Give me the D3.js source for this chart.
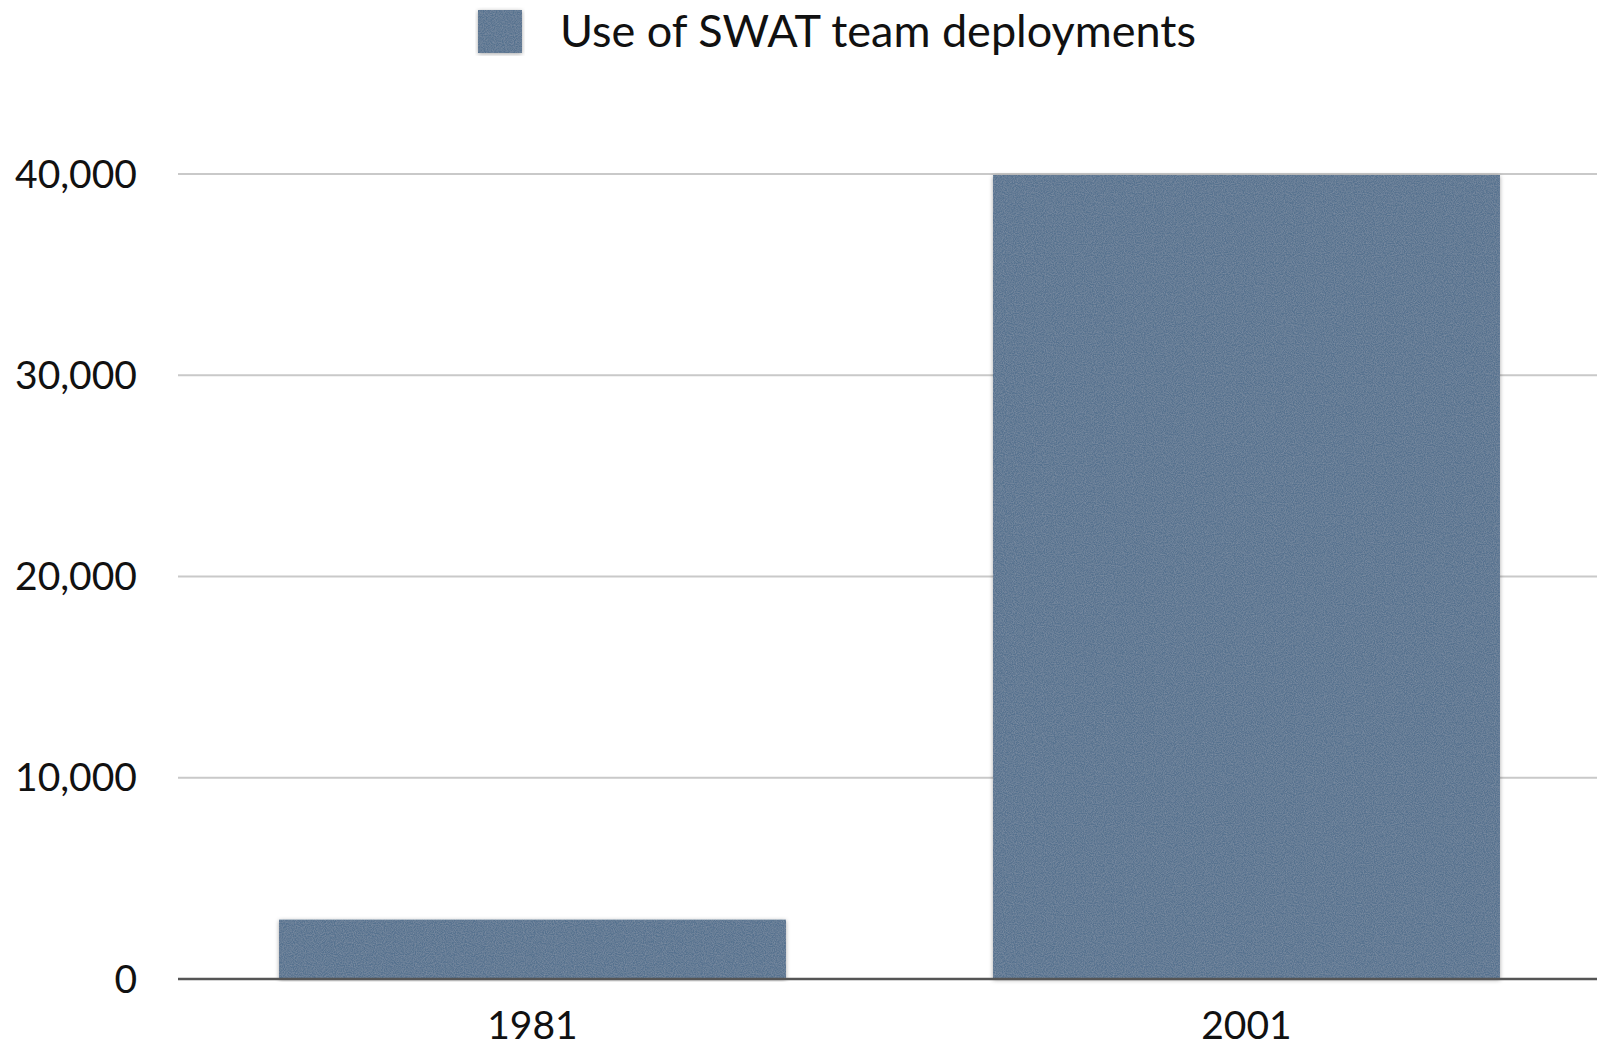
<!DOCTYPE html>
<html>
<head>
<meta charset="utf-8">
<script src="https://cdn.jsdelivr.net/npm/d3@7"></script>
<style>
  html, body { margin: 0; padding: 0; background: #fff; }
  svg { display: block; font-family: Lato, "Open Sans", sans-serif; }
</style>
</head>
<body>
<div id="chart"></div>
<script>
// data
const years = ["1981", "2001"];
const deployments = [2950, 39950];
const yTicks = [0, 10000, 20000, 30000, 40000];
const seriesName = "Use of SWAT team deployments";

const width = 1597;
const height = 1048;
const barColor = "#56728f";

const svg = d3.select("#chart")
  .append("svg")
  .attr("width", width)
  .attr("height", height);

// grainy paper look of the bars + soft shadow
const defs = svg.append("defs");
const grain = defs.append("filter")
  .attr("id", "grain")
  .attr("x", "-5%").attr("y", "-5%")
  .attr("width", "110%").attr("height", "110%");
grain.append("feTurbulence")
  .attr("type", "fractalNoise")
  .attr("baseFrequency", 0.9)
  .attr("numOctaves", 2)
  .attr("seed", 3)
  .attr("result", "noise");
grain.append("feColorMatrix")
  .attr("in", "noise")
  .attr("type", "matrix")
  .attr("values", "0 0 0 0 1  0 0 0 0 1  0 0 0 0 1  0 0 0 0.2 -0.06")
  .attr("result", "speckle");
grain.append("feComposite")
  .attr("in", "speckle")
  .attr("in2", "SourceGraphic")
  .attr("operator", "in")
  .attr("result", "speckleIn");
grain.append("feDropShadow")
  .attr("in", "SourceGraphic")
  .attr("dx", 0).attr("dy", 1)
  .attr("stdDeviation", 2)
  .attr("flood-color", "#000")
  .attr("flood-opacity", 0.35)
  .attr("result", "shadowed");
const merge = grain.append("feMerge");
merge.append("feMergeNode").attr("in", "shadowed");
merge.append("feMergeNode").attr("in", "speckleIn");

const x = d3.scaleBand()
  .domain(years)
  .range([178, 1601])
  .paddingInner(0.29)
  .paddingOuter(0.1415);

const y = d3.scaleLinear()
  .domain([0, 40000])
  .range([979, 174]);

// gridlines
svg.append("g")
  .selectAll("line")
  .data(yTicks.filter(d => d > 0))
  .join("line")
  .attr("x1", 178)
  .attr("x2", width)
  .attr("y1", d => y(d))
  .attr("y2", d => y(d))
  .attr("stroke", "#c9c9c9")
  .attr("stroke-width", 2);

// y labels
svg.append("g")
  .attr("text-anchor", "end")
  .selectAll("text")
  .data(yTicks)
  .join("text")
  .attr("x", 137)
  .attr("y", d => y(d))
  .attr("dy", "0.35em")
  .style("font-size", "39px")
  .attr("fill", "#111")
  .text(d => d3.format(",")(d));

// bars
svg.append("g")
  .selectAll("rect")
  .data(years)
  .join("rect")
  .attr("x", d => x(d))
  .attr("width", x.bandwidth())
  .attr("y", (d, i) => y(deployments[i]))
  .attr("height", (d, i) => y(0) - y(deployments[i]))
  .attr("fill", barColor)
  .attr("filter", "url(#grain)");

// baseline
svg.append("line")
  .attr("x1", 178)
  .attr("x2", width)
  .attr("y1", y(0))
  .attr("y2", y(0))
  .attr("stroke", "#555")
  .attr("stroke-width", 2.5);

// x labels
svg.append("g")
  .attr("text-anchor", "middle")
  .selectAll("text")
  .data(years)
  .join("text")
  .attr("x", d => x(d) + x.bandwidth() / 2)
  .attr("y", 1039)
  .style("font-size", "39px")
  .attr("fill", "#111")
  .text(d => d);

// legend
const legend = svg.append("g");
legend.append("rect")
  .attr("x", 478)
  .attr("y", 10)
  .attr("width", 44)
  .attr("height", 43)
  .attr("fill", barColor)
  .attr("filter", "url(#grain)");
legend.append("text")
  .attr("x", 560)
  .attr("y", 47)
  .style("font-size", "45px")
  .attr("fill", "#111")
  .text(seriesName);
</script>
</body>
</html>
